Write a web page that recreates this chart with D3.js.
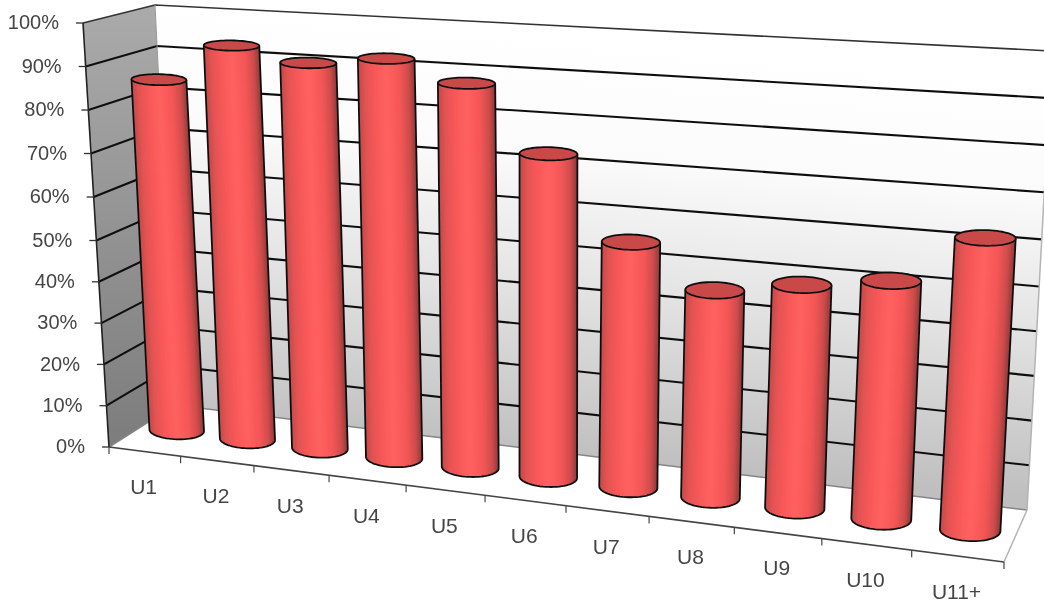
<!DOCTYPE html>
<html>
<head>
<meta charset="utf-8">
<script src="https://cdn.jsdelivr.net/npm/d3@7"></script>
<style>
    html, body { margin: 0; padding: 0; background: #fff; }
    svg { display: block; }
    text { font-family: "Liberation Sans", Arial, sans-serif; fill: #454545; }
</style>
</head>
<body>
<svg id="chart"></svg>
<script>
const categories = [ 'U1', 'U2', 'U3', 'U4', 'U5', 'U6', 'U7', 'U8', 'U9', 'U10', 'U11+' ];
const values = [ 85, 94, 91, 93, 88.5, 74, 56, 47, 50, 52.5, 63 ];
const yTicks = [ 0, 10, 20, 30, 40, 50, 60, 70, 80, 90, 100 ];

const width = 1044, height = 610;

// corners of the chart box as seen by the camera
const box = {
    front: { left: { low: [ 109, 447 ], high: [ 83, 23 ] }, right: { low: [ 1004, 562 ], high: [ 1033, 72 ] } },
    back: { left: { low: [ 175, 405 ], high: [ 155, 5 ] }, right: { low: [ 1027, 510 ], high: [ 1052, 51 ] } }
};
const foreshortening = 1.15;

const xBand = d3.scaleBand().domain( categories ).range( [ 0, categories.length ] );
const yScale = d3.scaleLinear().domain( [ 0, 50, 100 ] ).range( [ 0, 0.487, 1 ] );
const radius = d3.scaleLinear().domain( [ 0, categories.length - 1 ] ).range( [ 27.5, 30.5 ] );
const discDepth = d3.scaleLinear().domain( [ 0, 1 ] ).range( [ 0.21, 0.26 ] );

const mix = ( a, b, k ) => [ a[0] + ( b[0] - a[0] ) * k, a[1] + ( b[1] - a[1] ) * k ];

// slots get wider towards the camera on the right
function depthX( s ) {
    const n = categories.length;
    return s / ( s + foreshortening * ( n - s ) );
}

function project( u, v, t ) {
    const left = mix( mix( box.front.left.low, box.back.left.low, v ), mix( box.front.left.high, box.back.left.high, v ), t );
    const right = mix( mix( box.front.right.low, box.back.right.low, v ), mix( box.front.right.high, box.back.right.high, v ), t );
    return mix( left, right, u );
}

const svg = d3.select( '#chart' ).attr( 'width', width ).attr( 'height', height );
const defs = svg.append( 'defs' );
defs.append( 'filter' ).attr( 'id', 'soft' )
    .attr( 'filterUnits', 'userSpaceOnUse' )
    .attr( 'x', 0 ).attr( 'y', 0 )
    .attr( 'width', width ).attr( 'height', height )
    .append( 'feGaussianBlur' ).attr( 'stdDeviation', 0.6 );

function gradient( id, a, b, stops ) {
    const g = defs.append( 'linearGradient' ).attr( 'id', id )
        .attr( 'gradientUnits', 'userSpaceOnUse' )
        .attr( 'x1', a[0] ).attr( 'y1', a[1] ).attr( 'x2', b[0] ).attr( 'y2', b[1] );
    stops.forEach( s => g.append( 'stop' ).attr( 'offset', s[0] ).attr( 'stop-color', s[1] ) );
}

const line = d3.line();
const chart = svg.append( 'g' ).attr( 'filter', 'url(#soft)' );

// walls and floor
const wallTop = project( 0.5, 1, 1 ), wallBottom = project( 0.5, 1, 0 );
const wallSlope = ( project( 1, 1, 0.5 )[1] - project( 0, 1, 0.5 )[1] ) / ( project( 1, 1, 0.5 )[0] - project( 0, 1, 0.5 )[0] );
const wallDepth = wallBottom[1] - wallTop[1];
gradient( 'backWall', wallTop, [ wallTop[0] - wallSlope * wallDepth, wallTop[1] + wallDepth ],
    [ [ 0, '#ffffff' ], [ 0.3, '#fbfbfb' ], [ 0.6, '#e4e4e4' ], [ 1, '#bfbfbf' ] ] );
gradient( 'sideWall', [ 120, 10 ], [ 120, 430 ], [ [ 0, '#aaaaaa' ], [ 1, '#7e7e7e' ] ] );

chart.append( 'path' )
    .attr( 'd', line( [ project( 0, 1, 0 ), project( 0, 1, 1 ), project( 1, 1, 1 ), project( 1, 1, 0 ) ] ) + 'Z' )
    .attr( 'fill', 'url(#backWall)' );
chart.append( 'path' )
    .attr( 'd', line( [ project( 0, 0, 0 ), project( 0, 0, 1 ), project( 0, 1, 1 ), project( 0, 1, 0 ) ] ) + 'Z' )
    .attr( 'fill', 'url(#sideWall)' );

// grid lines run along the side wall and then the back wall
chart.selectAll( '.grid' )
    .data( yTicks )
    .enter()
    .append( 'path' )
    .attr( 'class', 'grid' )
    .attr( 'd', d => line( [ project( 0, 0, yScale( d ) ), project( 0, 1, yScale( d ) ), project( 1, 1, yScale( d ) ) ] ) )
    .attr( 'fill', 'none' )
    .attr( 'stroke', d => d === 0 ? '#858585' : d === 100 ? '#333' : '#111' )
    .attr( 'stroke-width', d => d === 0 ? 1.5 : d === 100 ? 1.6 : 2.1 );

chart.append( 'path' )
    .attr( 'd', line( [ project( 0, 1, 0 ), project( 0, 1, 1 ) ] ) )
    .attr( 'stroke', '#999' ).attr( 'fill', 'none' );
chart.append( 'path' )
    .attr( 'd', line( [ project( 1, 1, 1 ), project( 1, 1, 0 ), project( 1, 0, 0 ) ] ) )
    .attr( 'stroke', '#b4b4b4' ).attr( 'stroke-width', 1.5 ).attr( 'fill', 'none' );

// value axis on the front edge of the side wall
chart.append( 'path' )
    .attr( 'd', line( [ project( 0, 0, 0 ), project( 0, 0, 1 ) ] ) )
    .attr( 'stroke', '#222' ).attr( 'stroke-width', 1.6 ).attr( 'fill', 'none' );
chart.selectAll( '.ytick' )
    .data( yTicks )
    .enter()
    .append( 'path' )
    .attr( 'class', 'ytick' )
    .attr( 'd', d => {
        const p = project( 0, 0, yScale( d ) );
        return line( [ [ p[0] - 7, p[1] ], p ] );
    } )
    .attr( 'stroke', '#333' ).attr( 'stroke-width', 1.3 );
chart.selectAll( '.ylabel' )
    .data( yTicks )
    .enter()
    .append( 'text' )
    .attr( 'class', 'ylabel' )
    .attr( 'x', d => project( 0, 0, yScale( d ) )[0] - 24 )
    .attr( 'y', d => project( 0, 0, yScale( d ) )[1] + 1 )
    .attr( 'text-anchor', 'end' )
    .attr( 'dominant-baseline', 'middle' )
    .attr( 'font-size', 20 )
    .text( d => d + '%' );

// category axis on the front edge of the floor
chart.append( 'path' )
    .attr( 'd', line( [ project( 0, 0, 0 ), project( 1, 0, 0 ) ] ) )
    .attr( 'stroke', '#444' ).attr( 'stroke-width', 1.6 ).attr( 'fill', 'none' );
chart.selectAll( '.xtick' )
    .data( d3.range( 0, categories.length + 1 ) )
    .enter()
    .append( 'path' )
    .attr( 'class', 'xtick' )
    .attr( 'd', d => {
        const p = project( depthX( d ), 0, 0 );
        return line( [ p, [ p[0], p[1] + 7 ] ] );
    } )
    .attr( 'stroke', '#444' ).attr( 'stroke-width', 1.2 );
chart.selectAll( '.xlabel' )
    .data( categories )
    .enter()
    .append( 'text' )
    .attr( 'class', 'xlabel' )
    .attr( 'x', d => project( depthX( xBand( d ) + xBand.bandwidth() / 2 ), 0, 0 )[0] - 1 )
    .attr( 'y', d => project( depthX( xBand( d ) + xBand.bandwidth() / 2 ), 0, 0 )[1] + 37 )
    .attr( 'text-anchor', 'middle' )
    .attr( 'dominant-baseline', 'middle' )
    .attr( 'font-size', 21 )
    .text( d => d );

// one cylinder per category, discs stay nearly level on screen
function disc( u, t, r ) {
    const c = project( u, 0.5, t );
    const a = project( u + 0.01, 0.5, t ), b = project( u - 0.01, 0.5, t );
    const len = Math.hypot( a[0] - b[0], a[1] - b[1] );
    const ax = ( a[0] - b[0] ) / len * r, ay = ( a[1] - b[1] ) / len * r * 0.25;
    const dv = discDepth( t );
    const ry = ( project( u, 0.5 - dv, t )[1] - project( u, 0.5 + dv, t )[1] ) / 2;
    return {
        c, ax, ay, ry,
        at: th => [ c[0] + Math.cos( th ) * ax, c[1] + Math.cos( th ) * ay + Math.sin( th ) * ry ]
    };
}

const bars = chart.selectAll( '.bar' )
    .data( categories )
    .enter()
    .append( 'g' )
    .attr( 'class', 'bar' );

bars.each( function( d, i ) {
    const u = depthX( xBand( d ) + xBand.bandwidth() / 2 );
    const r = radius( i );
    const low = disc( u, 0, r ), high = disc( u, yScale( values[i] ), r );
    const g = d3.select( this );

    // shade across the cylinder, square to its own axis
    const mid = mix( low.c, high.c, 0.5 );
    const axisLen = Math.hypot( high.c[0] - low.c[0], high.c[1] - low.c[1] );
    const nx = ( low.c[1] - high.c[1] ) / axisLen * r, ny = ( high.c[0] - low.c[0] ) / axisLen * r;
    gradient( 'shade' + i, [ mid[0] - nx, mid[1] - ny ], [ mid[0] + nx, mid[1] + ny ],
        [ [ 0, '#c04a4a' ], [ 0.12, '#e25252' ], [ 0.3, '#f85858' ], [ 0.5, '#ff6060' ], [ 0.72, '#f55656' ], [ 0.88, '#d04c4c' ], [ 1, '#8c3838' ] ] );

    const arc = d3.range( 0, 1.001, 1 / 32 ).map( k => low.at( Math.PI - k * Math.PI ) );
    g.append( 'path' )
        .attr( 'd', line( [ high.at( Math.PI ), ...arc, high.at( 0 ) ] ) )
        .attr( 'fill', 'url(#shade' + i + ')' )
        .attr( 'stroke', '#111' ).attr( 'stroke-width', 1.8 ).attr( 'stroke-linejoin', 'round' );

    g.append( 'path' )
        .attr( 'd', line( d3.range( 0, 2, 1 / 32 ).map( k => high.at( k * Math.PI ) ) ) + 'Z' )
        .attr( 'fill', '#c94a4a' )
        .attr( 'stroke', '#111' ).attr( 'stroke-width', 1.8 );
} );
</script>
</body>
</html>
